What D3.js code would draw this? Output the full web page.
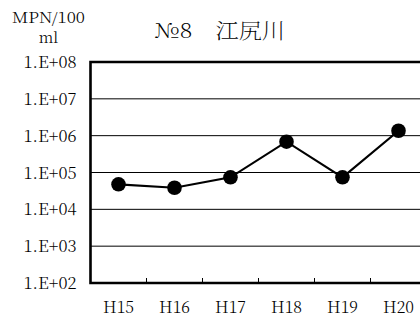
<!DOCTYPE html>
<html><head><meta charset="utf-8">
<script src="https://cdn.jsdelivr.net/npm/d3@7"></script>
<style>
body{margin:0;background:#fff;overflow:hidden}
svg{display:block}
</style></head>
<body><svg id="c" width="420" height="320"></svg>
<script>
const categories = ["H15","H16","H17","H18","H19","H20"];
const values = [47800, 38600, 74000, 686000, 74000, 1360000];
const yTicks = [1e2,1e3,1e4,1e5,1e6,1e7,1e8];
const yTickLabels = ["1.E+02","1.E+03","1.E+04","1.E+05","1.E+06","1.E+07","1.E+08"];
const title = "№8　江尻川";
const unitLines = ["MPN/100","ml"];

(function(){
const FONT = '"Noto Serif CJK JP","Liberation Serif",serif';
const svg = d3.select("#c");
const pL = 90.5, pT = 62, pB = 283, bandW = 56;
const pR = pL + bandW*categories.length;
const x = d3.scaleBand().domain(categories).range([pL, pR]);
const y = d3.scaleLog().domain([1e2,1e8]).range([pB, pT]);

// gridlines
svg.append("g").selectAll("line").data(yTicks.slice(1,-1)).join("line")
  .attr("x1", pL).attr("x2", 420).attr("y1", d=>y(d)).attr("y2", d=>y(d))
  .attr("stroke","#000").attr("stroke-width",1);

// x ticks (inside)
const xAxis = d3.axisBottom(x).tickSizeInner(-5).tickSizeOuter(0).tickFormat("");
const gx = svg.append("g").attr("transform",`translate(0,${pB})`).call(xAxis);
gx.select(".domain").remove();
gx.selectAll(".tick").attr("transform", d=>`translate(${x(d)+bandW},0)`);
gx.selectAll(".tick line").attr("stroke","#000").attr("stroke-width",1);

// border
svg.append("path")
  .attr("d",`M${pR},${pT}H${pL}V${pB}H${pR}`)
  .attr("fill","none").attr("stroke","#000").attr("stroke-width",2.6);

// y labels
const yAxis = d3.axisLeft(y).tickValues(yTicks).tickSize(0).tickFormat((d,i)=>yTickLabels[i]);
const gy = svg.append("g").attr("transform",`translate(${pL-14},0)`).call(yAxis);
gy.select(".domain").remove();
gy.attr("font-family", FONT).attr("font-size", 16).attr("font-weight", 300);
gy.selectAll("text").attr("x",0).attr("dy","0.35em").attr("fill","#000")
  .attr("textLength",53).attr("lengthAdjust","spacingAndGlyphs");

// x labels
svg.append("g").attr("font-family", FONT).attr("font-size", 16).attr("font-weight", 300)
  .selectAll("text").data(categories).join("text")
  .attr("x", d=>x(d)+bandW/2).attr("y", 313).attr("text-anchor","middle")
  .attr("textLength",31).attr("lengthAdjust","spacingAndGlyphs").text(d=>d);

// line
const line = d3.line().x((d,i)=>x(categories[i])+bandW/2).y(d=>y(d));
svg.append("path").datum(values).attr("d", line).attr("fill","none")
  .attr("stroke","#000").attr("stroke-width",2.2);
svg.append("g").selectAll("circle").data(values).join("circle")
  .attr("cx",(d,i)=>x(categories[i])+bandW/2).attr("cy",d=>y(d)).attr("r",7.3).attr("fill","#000");

// unit label
const ug = svg.append("g").attr("font-family", FONT).attr("font-size", 15)
  .attr("font-weight", 300).attr("text-anchor","middle");
ug.append("text").attr("x",48.5).attr("y",23)
  .attr("textLength",73).attr("lengthAdjust","spacingAndGlyphs").text(unitLines[0]);
ug.append("text").attr("x",48.5).attr("y",43).text(unitLines[1]);

// title
svg.append("text").attr("x",220).attr("y",38).attr("text-anchor","middle")
  .attr("font-family", FONT).attr("font-size", 21).attr("font-weight", 200)
  .attr("textLength",130).attr("lengthAdjust","spacingAndGlyphs")
  .text(title);
})();
</script></body></html>
